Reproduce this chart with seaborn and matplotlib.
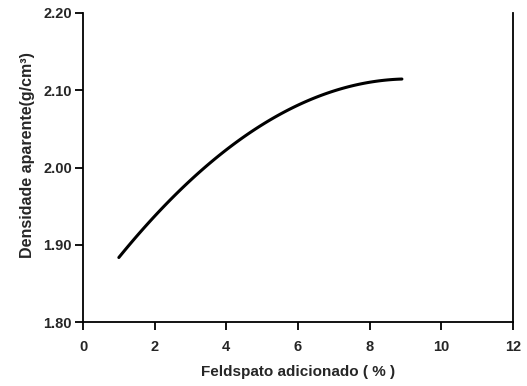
import matplotlib
matplotlib.use("Agg")
import matplotlib.pyplot as plt
import seaborn as sns
import pandas as pd

# Apparent density vs. added feldspar
feldspato = [1, 2, 3, 4, 5, 6, 7, 8, 8.9]
densidade = [1.887, 1.935, 1.979, 2.022, 2.057, 2.084, 2.100, 2.110, 2.113]

x_ticks = [0, 2, 4, 6, 8, 10, 12]
y_ticks = [1.80, 1.90, 2.00, 2.10, 2.20]

sns.set_theme(style="ticks")
plt.rcParams["font.family"] = ["Liberation Sans", "DejaVu Sans"]
plt.rcParams["font.weight"] = "bold"

df = pd.DataFrame({"x": feldspato, "y": densidade})

fig = plt.figure(figsize=(5.27, 3.86), dpi=100)
ax = fig.add_axes([83 / 527, 1 - 322 / 386, (513 - 83) / 527, (322 - 13) / 386])

# smooth quadratic trend through the measured points
sns.regplot(data=df, x="x", y="y", ax=ax, order=2, ci=None, scatter=False,
            truncate=True, line_kws={"color": "black", "linewidth": 2.2})

ax.set_xlim(0, 12)
ax.set_ylim(1.80, 2.20)
ax.set_xticks(x_ticks)
ax.set_xticklabels([str(t) for t in x_ticks], fontsize=10.5, fontweight="bold")
ax.set_yticks(y_ticks)
ax.set_yticklabels([f"{t:.2f}" for t in y_ticks], fontsize=10.5, fontweight="bold")

ax.tick_params(axis="both", direction="out", length=6, width=1.3, color="black")
ax.tick_params(axis="x", pad=7)
ax.tick_params(axis="y", pad=2)

ax.spines["top"].set_visible(False)
for side in ("left", "bottom", "right"):
    ax.spines[side].set_color("black")
    ax.spines[side].set_linewidth(1.3)

ax.set_xlabel("Feldspato adicionado ( % )", fontsize=11, fontweight="bold", labelpad=8)
ax.set_ylabel("Densidade aparente(g/cm³)", fontsize=11.5, fontweight="bold")
ax.yaxis.set_label_coords(-0.112, 0.54)

fig.savefig("out.png", dpi=100, facecolor="white")
